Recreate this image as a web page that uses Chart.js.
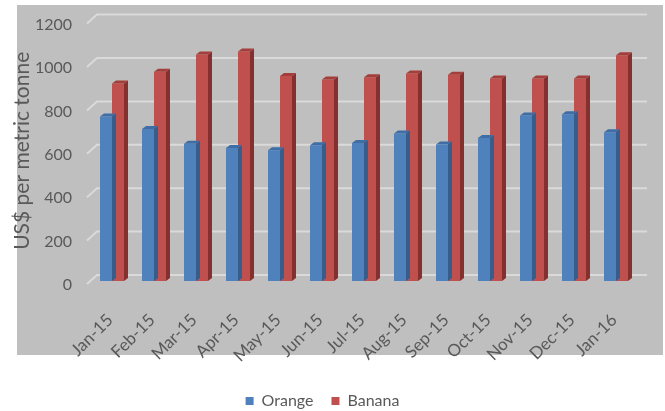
<!DOCTYPE html>
<html>
<head>
<meta charset="utf-8">
<script src="https://cdn.jsdelivr.net/npm/chart.js@4/dist/chart.umd.min.js"></script>
<style>
  html, body { margin: 0; padding: 0; background: #ffffff; }
  #wrap { width: 665px; height: 411px; position: relative; }
</style>
</head>
<body>
<div id="wrap"><canvas id="c" width="665" height="411"></canvas></div>
<script>
// Monthly export prices, US$ per metric tonne
const months = ['Jan-15', 'Feb-15', 'Mar-15', 'Apr-15', 'May-15', 'Jun-15', 'Jul-15',
                'Aug-15', 'Sep-15', 'Oct-15', 'Nov-15', 'Dec-15', 'Jan-16'];
const orangePrices = [758, 700, 632, 613, 603, 626, 636, 680, 629, 659, 763, 768, 686];
const bananaPrices = [910, 964, 1044, 1058, 945, 928, 939, 956, 951, 933, 933, 933, 1040];
const yTicks = [0, 200, 400, 600, 800, 1000, 1200];

const FONT = 'Lato, "Open Sans", sans-serif';
const TEXT = '#595959';

// Face colours for the extruded bars: front, side, top
const faces = [
  { front: '#4f81bd', side: '#385d8a', top: '#3f6ea6' },
  { front: '#c0504d', side: '#84302e', top: '#a33e3b' }
];
const DEPTH_X = 4, DEPTH_Y = 3;

// Grey plot panel behind everything
const panelPlugin = {
  id: 'panel',
  beforeDraw(chart) {
    const ctx = chart.ctx;
    ctx.save();
    ctx.fillStyle = '#bfbfbf';
    ctx.fillRect(17, 5, 646, 350);
    ctx.restore();
  }
};

// Back-wall gridlines with a short slanted segment on the left side wall
const wallGridPlugin = {
  id: 'wallGrid',
  beforeDatasetsDraw(chart) {
    const { ctx, chartArea, scales } = chart;
    const y = scales.y;
    ctx.save();
    ctx.strokeStyle = '#dadada';
    ctx.lineWidth = 2;
    yTicks.forEach(v => {
      const py = y.getPixelForValue(v);
      ctx.beginPath();
      ctx.moveTo(chartArea.left - 4, py + 3);
      ctx.lineTo(chartArea.left + 6, py - 6);
      ctx.lineTo(chartArea.right + 10, py - 6);
      ctx.stroke();
    });
    ctx.restore();
  }
};

// Side and top faces for each bar, giving the columns depth
const extrudePlugin = {
  id: 'extrude',
  afterDatasetDraw(chart, args) {
    const ctx = chart.ctx;
    const meta = args.meta;
    const col = faces[args.index];
    ctx.save();
    meta.data.forEach(bar => {
      const p = bar.getProps(['x', 'y', 'base', 'width'], true);
      const l = p.x - p.width / 2, r = p.x + p.width / 2;
      const t = p.y, b = p.base;
      ctx.fillStyle = col.side;
      ctx.beginPath();
      ctx.moveTo(r, t);
      ctx.lineTo(r + DEPTH_X, t - DEPTH_Y);
      ctx.lineTo(r + DEPTH_X, b - DEPTH_Y);
      ctx.lineTo(r, b);
      ctx.closePath();
      ctx.fill();
      ctx.fillStyle = col.top;
      ctx.beginPath();
      ctx.moveTo(l, t);
      ctx.lineTo(l + DEPTH_X, t - DEPTH_Y);
      ctx.lineTo(r + DEPTH_X, t - DEPTH_Y);
      ctx.lineTo(r, t);
      ctx.closePath();
      ctx.fill();
    });
    ctx.restore();
  }
};

new Chart(document.getElementById('c'), {
  type: 'bar',
  data: {
    labels: months,
    datasets: [
      { label: 'Orange', data: orangePrices, backgroundColor: faces[0].front },
      { label: 'Banana', data: bananaPrices, backgroundColor: faces[1].front }
    ]
  },
  options: {
    responsive: false,
    animation: false,
    events: [],
    layout: { padding: { left: 8, right: 28, top: 8.4, bottom: -8 } },
    datasets: { bar: { barPercentage: 1, categoryPercentage: 0.571 } },
    scales: {
      x: {
        grid: { display: false },
        border: { display: false },
        ticks: {
          minRotation: 45, maxRotation: 45, padding: 21, labelOffset: -2,
          color: TEXT, font: { family: FONT, size: 17 }
        },
        afterFit(scale) { scale.height = 94; }
      },
      y: {
        min: 0, max: 1200,
        afterBuildTicks(scale) { scale.ticks = yTicks.map(v => ({ value: v })); },
        grid: { display: false },
        border: { display: false },
        ticks: {
          padding: 11, labelOffset: 4,
          callback: v => String(v),
          color: TEXT, font: { family: FONT, size: 16 }
        },
        title: {
          display: true, text: 'US$ per metric tonne',
          color: TEXT, font: { family: FONT, size: 21 }, padding: 2
        },
        afterFit(scale) { scale.width = 83; }
      }
    },
    plugins: {
      legend: {
        position: 'bottom',
        labels: {
          boxWidth: 8, boxHeight: 8, padding: 18,
          color: TEXT, font: { family: FONT, size: 16 }
        }
      },
      tooltip: { enabled: false }
    }
  },
  plugins: [panelPlugin, wallGridPlugin, extrudePlugin]
});
</script>
</body>
</html>
